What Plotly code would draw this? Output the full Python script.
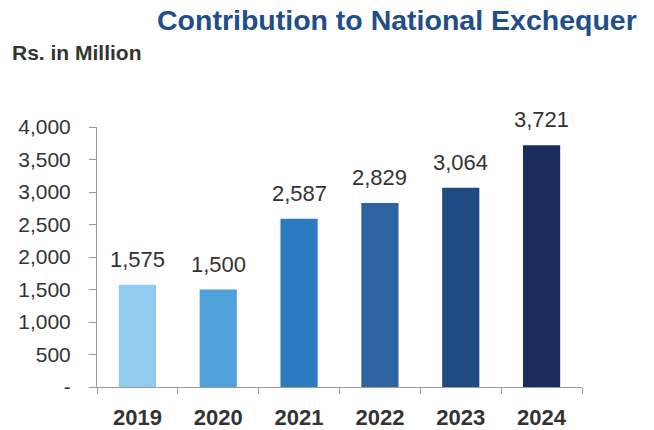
import plotly.graph_objects as go

years = ["2019", "2020", "2021", "2022", "2023", "2024"]
values = [1575, 1500, 2587, 2829, 3064, 3721]
labels = ["1,575", "1,500", "2,587", "2,829", "3,064", "3,721"]
colors = ["#8fcbef", "#4fa2dc", "#2a7bc0", "#2c63a0", "#1f4a84", "#1b2d5b"]
ytickvals = [0, 500, 1000, 1500, 2000, 2500, 3000, 3500, 4000]
yticktext = ["-", "500", "1,000", "1,500", "2,000", "2,500", "3,000", "3,500", "4,000"]

FONT = "Liberation Sans, Arial"

fig = go.Figure(go.Bar(
    x=years, y=values, marker_color=colors, marker_line_width=0,
    width=0.46, hoverinfo="x+y",
))

annos = [
    dict(text="<b>Contribution to National Exchequer</b>", xref="paper", yref="paper",
         x=1.118, y=1.0, xanchor="right", yanchor="middle", yshift=107,
         showarrow=False, font=dict(size=28.5, color="#1f4e8a", family=FONT)),
    dict(text="<b>Rs. in Million</b>", xref="paper", yref="paper",
         x=-0.18, y=1.0, xanchor="left", yanchor="middle", yshift=75,
         showarrow=False, font=dict(size=21, color="#333333", family=FONT)),
]
for i, (v, lab) in enumerate(zip(values, labels)):
    annos.append(dict(x=i, y=v, text=lab, xref="x", yref="y", showarrow=False,
                      xanchor="center", yanchor="bottom", yshift=11,
                      font=dict(size=22, color="#333333", family=FONT)))

fig.update_layout(
    width=654, height=430,
    margin=dict(l=97, r=72, t=127, b=43, autoexpand=False),
    paper_bgcolor="white", plot_bgcolor="white",
    showlegend=False,
    font=dict(family=FONT, color="#333333"),
    annotations=annos,
)
fig.update_yaxes(range=[0, 4000], tickvals=ytickvals, ticktext=yticktext,
                 showgrid=False, zeroline=False, showline=True, linecolor="#9a9a9a",
                 linewidth=1, ticks="outside", ticklen=7, tickcolor="#9a9a9a",
                 ticklabelstandoff=14,
                 tickfont=dict(size=21, color="#333333", family=FONT))
fig.update_xaxes(type="category", range=[-0.5, len(years) - 0.5],
                 showgrid=False, showline=True, linecolor="#9a9a9a", linewidth=1,
                 ticks="outside", ticklen=6, tickcolor="#9a9a9a", tickson="boundaries",
                 ticklabelstandoff=11, tickangle=0,
                 tickfont=dict(size=22, color="#333333", family=FONT),
                 tickvals=years, ticktext=["<b>%s</b>" % y for y in years])

fig.write_html("out.html")
